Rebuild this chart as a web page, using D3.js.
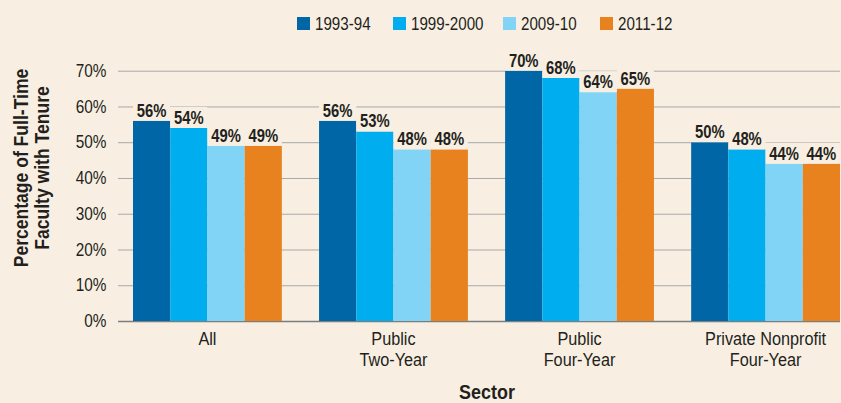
<!DOCTYPE html>
<html>
<head>
<meta charset="utf-8">
<script src="https://cdn.jsdelivr.net/npm/d3@7"></script>
<style>
  html, body { margin: 0; padding: 0; background: #f8efe2; }
  svg { display: block; }
  text { font-family: "Liberation Sans", Arial, sans-serif; fill: #231f20; }
</style>
</head>
<body>
<svg id="chart" width="841" height="403"></svg>
<script>
// Share of full-time faculty with tenure, by sector and academic year
const sectors = ["All", "Public\nTwo-Year", "Public\nFour-Year", "Private Nonprofit\nFour-Year"];
const years = ["1993-94", "1999-2000", "2009-10", "2011-12"];
const v1993 = [56, 56, 70, 50];
const v1999 = [54, 53, 68, 48];
const v2009 = [49, 48, 64, 44];
const v2011 = [49, 48, 65, 44];
const yTicks = [0, 10, 20, 30, 40, 50, 60, 70];
const colors = ["#0066a6", "#00aeef", "#82d4f7", "#e8821f"];

const seriesValues = [v1993, v1999, v2009, v2011];
const rows = sectors.map((s, i) => ({ sector: s, values: years.map((y, j) => ({ year: y, value: seriesValues[j][i] })) }));

const svg = d3.select("#chart");
const bg = "#f8efe2";
const plot = { left: 118, right: 840, bottom: 321 };

// squeeze text horizontally about its anchor to get a condensed face
function narrow(sel, s) {
  sel.each(function () {
    const ax = +this.getAttribute("x") || 0;
    this.setAttribute("transform", `translate(${ax * (1 - s)},0) scale(${s},1)`);
  });
}

const x = d3.scaleBand().domain(sectors).range([133, 840]).paddingInner(0.2).paddingOuter(0);
const xs = d3.scaleBand().domain(years).range([0, x.bandwidth()]);
const y = d3.scaleLinear().domain([0, 70]).range([plot.bottom, 70.7]);

// y axis: labels plus full-width gridlines
const yAxis = d3.axisLeft(y).tickValues(yTicks).tickFormat(d => d + "%").tickSize(0);
const gy = svg.append("g").attr("transform", `translate(${plot.left},0)`).call(yAxis);
gy.select(".domain").remove();
gy.selectAll(".tick text")
  .attr("font-size", 18.5).attr("fill", "#231f20").attr("font-family", null)
  .attr("x", -11.5).attr("dy", "0.3em")
  .call(narrow, 0.83);
gy.selectAll(".tick line")
  .attr("x1", 0).attr("x2", plot.right - plot.left)
  .attr("stroke", d => d === 0 ? "#7d7d7d" : "#a8a8a8")
  .attr("stroke-width", d => d === 0 ? 1.5 : 1);

// bars
const groups = svg.append("g").selectAll("g").data(rows).join("g")
  .attr("transform", d => `translate(${x(d.sector)},0)`);

groups.selectAll("rect").data(d => d.values).join("rect")
  .attr("x", d => xs(d.year))
  .attr("width", xs.bandwidth())
  .attr("y", d => y(d.value))
  .attr("height", d => y(0) - y(d.value))
  .attr("fill", (d, i) => colors[i]);

// value labels on background boxes so gridlines break around them
const labels = groups.selectAll("g.lbl").data(d => d.values).join("g").attr("class", "lbl")
  .attr("transform", d => `translate(${xs(d.year) + xs.bandwidth() / 2},${y(d.value) - 4})`);
labels.append("rect")
  .attr("x", -xs.bandwidth() / 2).attr("y", -17).attr("width", xs.bandwidth()).attr("height", 21)
  .attr("fill", bg);
labels.append("text")
  .attr("text-anchor", "middle")
  .attr("font-size", 19).attr("font-weight", "bold")
  .text(d => d.value + "%")
  .call(narrow, 0.78);

// category labels
const cat = svg.append("g").selectAll("text").data(sectors).join("text")
  .attr("x", d => x(d) + x.bandwidth() / 2)
  .attr("y", 345)
  .attr("text-anchor", "middle")
  .attr("font-size", 17.5);
cat.selectAll("tspan").data(d => d.split("\n")).join("tspan")
  .attr("x", function () { return d3.select(this.parentNode).attr("x"); })
  .attr("dy", (d, i) => i === 0 ? 0 : 21.5)
  .text(d => d);
cat.call(narrow, 0.93);

// axis titles
svg.append("text")
  .attr("x", 487).attr("y", 399)
  .attr("text-anchor", "middle")
  .attr("font-size", 19.5).attr("font-weight", "bold")
  .text("Sector")
  .call(narrow, 0.92);

const yt = svg.append("text")
  .attr("transform", "translate(28,168) rotate(-90) scale(0.9,1)")
  .attr("text-anchor", "middle")
  .attr("font-size", 19.5).attr("font-weight", "bold");
yt.append("tspan").attr("x", 0).attr("dy", 0).text("Percentage of Full-Time");
yt.append("tspan").attr("x", 0).attr("dy", 21).text("Faculty with Tenure");

// legend
const legendX = [297, 393, 503, 600];
const lg = svg.append("g").selectAll("g").data(years).join("g")
  .attr("transform", (d, i) => `translate(${legendX[i]},17)`);
lg.append("rect").attr("width", 13).attr("height", 13).attr("fill", (d, i) => colors[i]);
lg.append("text").attr("x", 18).attr("y", 13).attr("font-size", 18.5).text(d => d)
  .call(narrow, 0.82);
</script>
</body>
</html>
